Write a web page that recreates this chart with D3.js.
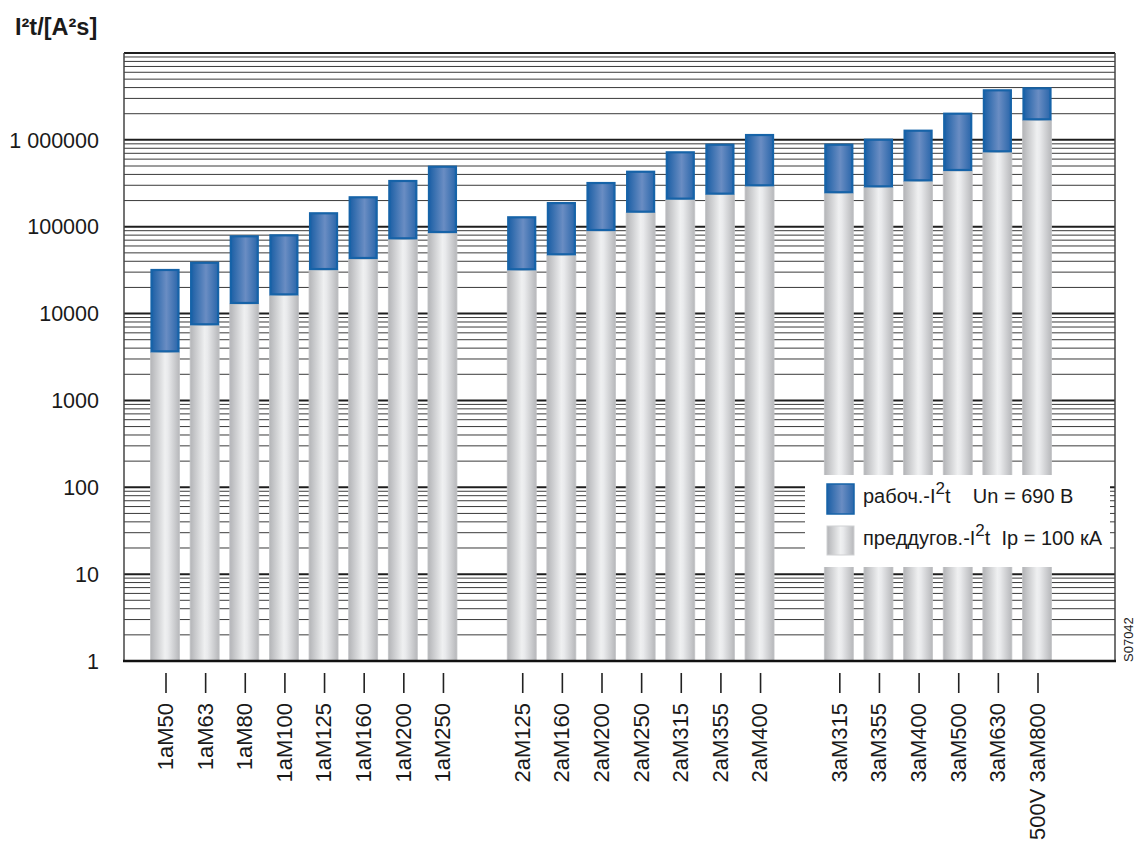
<!DOCTYPE html>
<html><head><meta charset="utf-8">
<script src="https://cdn.jsdelivr.net/npm/d3@7"></script>
<style>
html,body{margin:0;padding:0;background:#fff;}
svg{display:block;font-family:"Liberation Sans",Arial,Helvetica,sans-serif;}
</style></head>
<body>
<svg id="c" width="1136" height="841"></svg>
<script>
// ---- data ----
const categories = ["1aM50","1aM63","1aM80","1aM100","1aM125","1aM160","1aM200","1aM250",
  "2aM125","2aM160","2aM200","2aM250","2aM315","2aM355","2aM400",
  "3aM315","3aM355","3aM400","3aM500","3aM630","500V 3aM800"];
const groups = [1,1,1,1,1,1,1,1, 2,2,2,2,2,2,2, 3,3,3,3,3,3];
// pre-arcing I²t (grey) and total operating I²t (blue top), A²s
const preArcing = [3580,7330,12900,16200,31700,42500,71600,84600,
  31500,46900,89200,145000,205000,234000,292000,
  243000,284000,333000,438000,719000,1679000];
const operating = [32600,39500,79600,81700,146600,224000,345000,504000,
  131800,192000,327000,441000,738000,903000,1167000,
  903000,1031000,1309000,2055000,3818000,4030000];
const tickValues = [1,10,100,1000,10000,100000,1000000];
const tickLabels = ["1","10","100","1000","10000","100000","1 000000"];
const yTitle = "I²t/[A²s]";
const legendOperating = ["рабоч.-I","2","t    Un = 690 В"];
const legendPreArcing = ["преддугов.-I","2","t  Ip = 100 кА"];
const figCode = "S07042";

// ---- layout ----
const L = 124, R = 1115, T = 53, B = 661;
const svg = d3.select("#c");
const defs = svg.append("defs");

const gGrey = defs.append("linearGradient").attr("id","grey").attr("x1","0").attr("x2","1").attr("y1","0").attr("y2","0");
[[0,"#b3b4b7"],[0.5,"#eff0f1"],[0.6,"#e9eaec"],[1,"#b6b7ba"]].forEach(s=>gGrey.append("stop").attr("offset",s[0]).attr("stop-color",s[1]));
const gBlue = defs.append("linearGradient").attr("id","blue").attr("x1","0").attr("x2","1").attr("y1","0").attr("y2","0");
[[0,"#1b5fa5"],[0.55,"#6a8dc3"],[1,"#2a66aa"]].forEach(s=>gBlue.append("stop").attr("offset",s[0]).attr("stop-color",s[1]));

// slot keys with empty slot between groups
const slotKeys = [];
categories.forEach((c,i)=>{ if(i>0 && groups[i]!==groups[i-1]) slotKeys.push("gap"+i); slotKeys.push(c); });
const x = d3.scalePoint().domain(slotKeys).range([165,1037]);
const y = d3.scaleLog().domain([1,1e7]).range([B,T]);

// grid lines
const gridVals = [];
for (let e=0;e<7;e++) for (let m=1;m<=9;m++) gridVals.push(m*Math.pow(10,e));
gridVals.push(1e7);
const isMajor = d => Math.abs(Math.log10(d)%1)<1e-9;
svg.append("g").selectAll("line").data(gridVals).join("line")
  .attr("x1",L).attr("x2",R)
  .attr("y1",d=>y(d)).attr("y2",d=>y(d))
  .attr("stroke",d=>isMajor(d)?"#1e1e1e":"#3a3a3a")
  .attr("stroke-width",d=>isMajor(d)?2:1);

// frame
svg.append("line").attr("x1",L).attr("x2",L).attr("y1",T).attr("y2",B).attr("stroke","#444").attr("stroke-width",1.5);
svg.append("line").attr("x1",R).attr("x2",R).attr("y1",T).attr("y2",B).attr("stroke","#444").attr("stroke-width",1.5);

// bars
const bw = 29;
const data = categories.map((c,i)=>({c, pre:preArcing[i], op:operating[i]}));
const bars = svg.append("g");
bars.selectAll("rect.pre").data(data).join("rect").attr("class","pre")
  .attr("x",d=>x(d.c)-bw/2).attr("width",bw)
  .attr("y",d=>y(d.pre)).attr("height",d=>y(1)-y(d.pre))
  .attr("fill","url(#grey)").attr("stroke","#c4c5c8").attr("stroke-width",0.8);
bars.selectAll("rect.op").data(data).join("rect").attr("class","op")
  .attr("x",d=>x(d.c)-bw/2+1).attr("width",bw-2)
  .attr("y",d=>y(d.op)+1).attr("height",d=>y(d.pre)-y(d.op)-2)
  .attr("fill","url(#blue)").attr("stroke","#1663a8").attr("stroke-width",2.2);

// bottom axis line
svg.append("line").attr("x1",L-1).attr("x2",R+1).attr("y1",B).attr("y2",B).attr("stroke","#111").attr("stroke-width",2.5);

// y tick labels
svg.append("g").selectAll("text").data(tickValues).join("text")
  .attr("x",99).attr("y",d=>y(d)).attr("dy","0.36em")
  .attr("text-anchor","end").attr("font-size",21.5).attr("fill","#1a1a1a")
  .text((d,i)=>tickLabels[i]);

// y title
svg.append("text").attr("x",15).attr("y",35).attr("font-size",23.5).attr("font-weight","bold").attr("fill","#1a1a1a").text(yTitle);

// x ticks and labels
const xg = svg.append("g");
xg.selectAll("line").data(categories).join("line")
  .attr("x1",d=>x(d)+1).attr("x2",d=>x(d)+1).attr("y1",673).attr("y2",693)
  .attr("stroke","#222").attr("stroke-width",1.6);
xg.selectAll("text").data(categories).join("text")
  .attr("transform",d=>`translate(${x(d)},703) rotate(-90)`)
  .attr("text-anchor","end").attr("dy","0.36em")
  .attr("font-size",22).attr("fill","#1a1a1a").text(d=>d);

// legend
const lg = svg.append("g");
lg.append("rect").attr("x",805).attr("y",475).attr("width",305).attr("height",92).attr("fill","#fff");
lg.append("rect").attr("x",827).attr("y",484).attr("width",27).attr("height",30).attr("fill","url(#blue)").attr("stroke","#1663a8").attr("stroke-width",1.5);
lg.append("rect").attr("x",827).attr("y",526).attr("width",27).attr("height",29).attr("fill","url(#grey)").attr("stroke","#d0d1d3").attr("stroke-width",1);
function legText(parts, yy){
  const t = lg.append("text").attr("x",863).attr("y",yy).attr("font-size",20).attr("fill","#1a1a1a").attr("xml:space","preserve");
  t.append("tspan").text(parts[0]);
  t.append("tspan").attr("dy",-9).attr("font-size",17).text(parts[1]);
  t.append("tspan").attr("dy",9).attr("font-size",20).text(parts[2]);
}
legText(legendOperating, 503);
legText(legendPreArcing, 545);

// figure code
svg.append("text").attr("transform","translate(1133,662) rotate(-90)").attr("text-anchor","start")
  .attr("font-size",13).attr("fill","#222").text(figCode);
</script>
</body></html>
